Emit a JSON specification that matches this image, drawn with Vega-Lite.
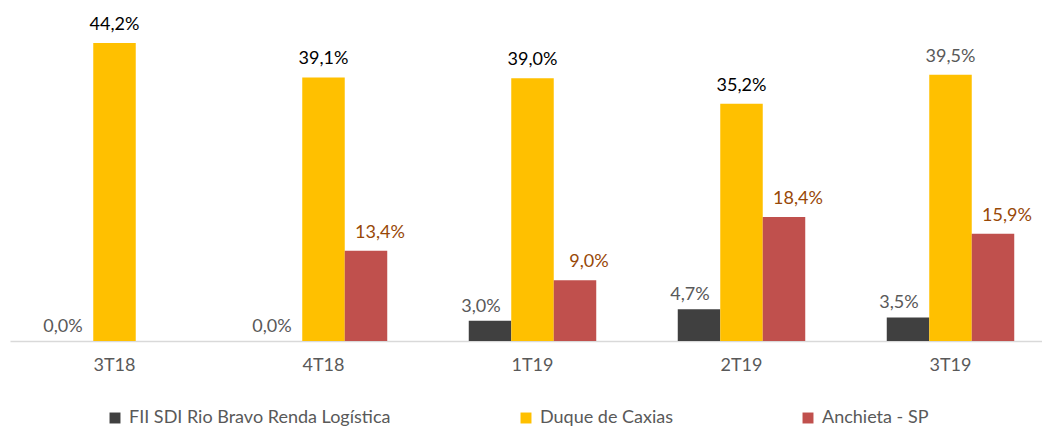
{
  "$schema": "https://vega.github.io/schema/vega-lite/v6.json",
  "width": 1042,
  "height": 337,
  "autosize": {"type": "none"},
  "padding": {"left": 0, "top": 4, "right": 0, "bottom": 86},
  "background": "#ffffff",
  "config": {
    "locale": {"number": {"decimal": ",", "thousands": ".", "grouping": [3], "currency": ["R$", ""]}},
    "view": {"stroke": null},
    "font": "Lato"
  },
  "data": {
    "values": [
      {"quarter": "3T18", "series": "FII SDI Rio Bravo Renda Logística", "value": 0.0},
      {"quarter": "3T18", "series": "Duque de Caxias", "value": 0.442},
      {"quarter": "4T18", "series": "FII SDI Rio Bravo Renda Logística", "value": 0.0},
      {"quarter": "4T18", "series": "Duque de Caxias", "value": 0.391},
      {"quarter": "4T18", "series": "Anchieta - SP", "value": 0.134},
      {"quarter": "1T19", "series": "FII SDI Rio Bravo Renda Logística", "value": 0.03},
      {"quarter": "1T19", "series": "Duque de Caxias", "value": 0.39},
      {"quarter": "1T19", "series": "Anchieta - SP", "value": 0.09},
      {"quarter": "2T19", "series": "FII SDI Rio Bravo Renda Logística", "value": 0.047},
      {"quarter": "2T19", "series": "Duque de Caxias", "value": 0.352},
      {"quarter": "2T19", "series": "Anchieta - SP", "value": 0.184},
      {"quarter": "3T19", "series": "FII SDI Rio Bravo Renda Logística", "value": 0.035},
      {"quarter": "3T19", "series": "Duque de Caxias", "value": 0.395},
      {"quarter": "3T19", "series": "Anchieta - SP", "value": 0.159}
    ]
  },
  "encoding": {
    "x": {
      "field": "quarter",
      "type": "nominal",
      "sort": ["3T18", "4T18", "1T19", "2T19", "3T19"],
      "scale": {"range": [10, 1055], "paddingInner": 0, "paddingOuter": 0},
      "axis": {
        "title": null,
        "labelAngle": 0,
        "ticks": false,
        "domainColor": "#D9D9D9",
        "domainWidth": 1.5,
        "labelFont": "Lato",
        "labelFontSize": 18,
        "labelColor": "#595959",
        "labelPadding": 15
      }
    },
    "xOffset": {
      "field": "series",
      "type": "nominal",
      "sort": ["FII SDI Rio Bravo Renda Logística", "Duque de Caxias", "Anchieta - SP"],
      "scale": {
        "domain": ["FII SDI Rio Bravo Renda Logística", "Duque de Caxias", "Anchieta - SP"],
        "paddingInner": 0,
        "paddingOuter": 0.959
      }
    },
    "y": {
      "field": "value",
      "type": "quantitative",
      "scale": {"domain": [0, 0.5], "nice": false, "zero": true},
      "axis": null
    }
  },
  "layer": [
    {
      "mark": {"type": "bar"},
      "encoding": {
        "color": {
          "field": "series",
          "type": "nominal",
          "scale": {
            "domain": ["FII SDI Rio Bravo Renda Logística", "Duque de Caxias", "Anchieta - SP"],
            "range": ["#404040", "#FFC000", "#C0504D"]
          },
          "legend": {
            "title": null,
            "orient": "none",
            "legendX": 106,
            "legendY": 405,
            "direction": "horizontal",
            "symbolType": "square",
            "symbolSize": 120,
            "symbolStrokeWidth": 0,
            "labelFont": "Lato",
            "labelFontSize": 18,
            "labelColor": "#595959",
            "labelOffset": 5,
            "columnPadding": 126,
            "labelLimit": 400
          }
        }
      }
    },
    {
      "transform": [{"filter": "datum.series === 'FII SDI Rio Bravo Renda Logística'"}],
      "mark": {"type": "text", "baseline": "alphabetic", "dy": -9, "dx": -9, "font": "Lato", "fontSize": 18, "color": "#595959"},
      "encoding": {"text": {"field": "value", "type": "quantitative", "format": ".1%"}}
    },
    {
      "transform": [{"filter": "datum.series === 'Duque de Caxias'"}],
      "mark": {"type": "text", "baseline": "alphabetic", "dy": -13, "font": "Lato", "fontSize": 18},
      "encoding": {
        "text": {"field": "value", "type": "quantitative", "format": ".1%"},
        "color": {"condition": {"test": "datum.quarter === '3T19'", "value": "#595959"}, "value": "#000000"}
      }
    },
    {
      "transform": [{"filter": "datum.series === 'Anchieta - SP'"}],
      "mark": {"type": "text", "baseline": "alphabetic", "dy": -13, "dx": 14, "font": "Lato", "fontSize": 18, "color": "#984807"},
      "encoding": {"text": {"field": "value", "type": "quantitative", "format": ".1%"}}
    }
  ]
}
